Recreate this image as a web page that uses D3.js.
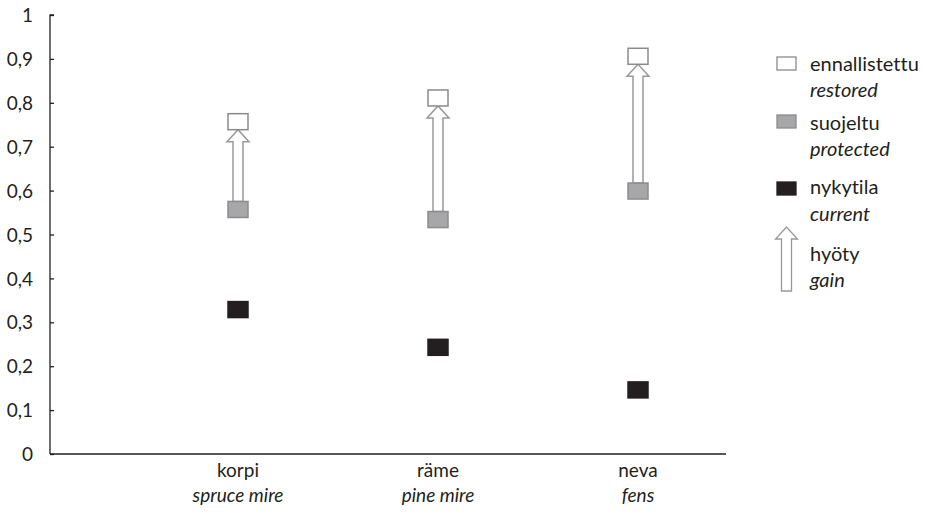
<!DOCTYPE html>
<html><head><meta charset="utf-8">
<script src="https://cdn.jsdelivr.net/npm/d3@7"></script>
<style>
body{margin:0;background:#fff;}
text{font-family:Lato,"Open Sans",sans-serif;fill:#231f20;font-variant-ligatures:none;font-feature-settings:"liga" 0;}
</style></head>
<body><svg id="c" width="943" height="515"></svg>
<script>
const categories = ["korpi", "räme", "neva"];
const categoriesEn = ["spruce mire", "pine mire", "fens"];
const restored = [0.757, 0.811, 0.906];
const protectedV = [0.557, 0.534, 0.599];
const current = [0.329, 0.243, 0.146];
const yTicks = [0, 0.1, 0.2, 0.3, 0.4, 0.5, 0.6, 0.7, 0.8, 0.9, 1];
const yTickLabels = ["0", "0,1", "0,2", "0,3", "0,4", "0,5", "0,6", "0,7", "0,8", "0,9", "1"];
const legendFi = ["ennallistettu", "suojeltu", "nykytila", "hyöty"];
const legendEn = ["restored", "protected", "current", "gain"];

(function () {
const svg = d3.select("#c");
const pL = 50, pR = 726, pT = 15, pB = 454;
const y = d3.scaleLinear().domain([0, 1]).range([pB, pT]);
const x = d3.scalePoint().domain(categories).range([pL + 188, pL + 588]);

// y axis
const yAxis = d3.axisRight(y).tickValues(yTicks).tickSize(4).tickFormat((d, i) => yTickLabels[i]);
const ga = svg.append("g").attr("transform", `translate(${pL},0)`).call(yAxis);
ga.select(".domain").attr("d", `M4,${pT}H0V${pB}`).attr("stroke", "#231f20").attr("stroke-width", 1.3);
ga.selectAll(".tick line").attr("stroke", "#231f20").attr("stroke-width", 1.3);
ga.selectAll(".tick text").attr("x", -17).attr("text-anchor", "end").attr("dy", "0.35em")
  .style("font-size", "19px").attr("fill", "#231f20");

// x axis line
svg.append("line").attr("x1", pL).attr("x2", pR).attr("y1", pB).attr("y2", pB)
  .attr("stroke", "#231f20").attr("stroke-width", 1.3);

// x labels
categories.forEach((c, i) => {
  svg.append("text").attr("x", x(c)).attr("y", 477).attr("text-anchor", "middle")
    .style("font-size", "19px").text(c);
  svg.append("text").attr("x", x(c)).attr("y", 502).attr("text-anchor", "middle")
    .style("font-size", "19px").style("font-style", "italic").text(categoriesEn[i]);
});

const mw = 20, mh = 16;
function arrowPath(cx, yb, yt, sw, hw, hl) {
  return `M${cx - sw / 2},${yb}V${yt + hl}H${cx - hw / 2}L${cx},${yt}L${cx + hw / 2},${yt + hl}H${cx + sw / 2}V${yb}Z`;
}

// arrows
categories.forEach((c, i) => {
  svg.append("path").attr("d", arrowPath(x(c), y(protectedV[i]) - mh / 2, y(restored[i]) + mh / 2, 10, 22, 12))
    .attr("fill", "#fff").attr("stroke", "#999").attr("stroke-width", 1.5);
});

function marker(vals, fill, stroke) {
  svg.append("g").selectAll("rect").data(vals).join("rect")
    .attr("x", (d, i) => x(categories[i]) - mw / 2).attr("y", d => y(d) - mh / 2)
    .attr("width", mw).attr("height", mh)
    .attr("fill", fill).attr("stroke", stroke).attr("stroke-width", 1.5);
}
marker(restored, "#fff", "#8a8a8a");
marker(protectedV, "#a7a7a9", "#8c8c8e");
marker(current, "#231f20", "#231f20");

// legend
const lx = 777, tx = 810;
const fiY = [71, 130, 194, 261], enY = [97, 156, 221, 287];
const sq = [{y: 57, fill: "#fff", stroke: "#8a8a8a"}, {y: 115, fill: "#a7a7a9", stroke: "#8c8c8e"}, {y: 182, fill: "#231f20", stroke: "#231f20"}];
sq.forEach(s => svg.append("rect").attr("x", lx).attr("y", s.y).attr("width", 19).attr("height", 13)
  .attr("fill", s.fill).attr("stroke", s.stroke).attr("stroke-width", 1.3));
svg.append("path").attr("d", arrowPath(lx + 9.5, 291, 227, 10, 22, 12))
  .attr("fill", "#fff").attr("stroke", "#999").attr("stroke-width", 1.3);
legendFi.forEach((t, i) => {
  svg.append("text").attr("x", tx).attr("y", fiY[i]).style("font-size", "20px").text(t);
  svg.append("text").attr("x", tx).attr("y", enY[i]).style("font-size", "20px").style("font-style", "italic").text(legendEn[i]);
});
})();
</script></body></html>
